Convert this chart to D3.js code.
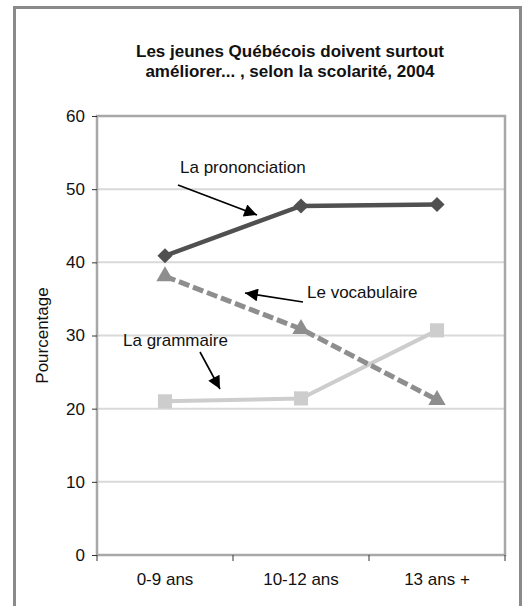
<!DOCTYPE html>
<html lang="fr">
<head>
<meta charset="utf-8">
<title>Les jeunes Québécois doivent surtout améliorer...</title>
<script src="https://cdn.jsdelivr.net/npm/d3@7"></script>
<style>
  body { margin: 0; background: #fff; }
  text { font-family: "Liberation Sans", Arial, sans-serif; fill: #111; }
</style>
</head>
<body>
<script>
// categories and series
var categories = ["0-9 ans", "10-12 ans", "13 ans +"];
var prononciation = [40.9, 47.7, 47.9];
var vocabulaire = [38.1, 30.9, 21.2];
var grammaire = [21.0, 21.4, 30.7];
var yTicks = [0, 10, 20, 30, 40, 50, 60];
var titleLines = ["Les jeunes Québécois doivent surtout", "améliorer... , selon la scolarité, 2004"];

var width = 525, height = 606;
var plot = { left: 97, right: 505, top: 116, bottom: 555 };

var svg = d3.select("body").append("svg")
  .attr("width", width)
  .attr("height", height);

// outer frame (bottom edge falls outside the picture)
svg.append("path")
  .attr("d", "M14.5,620 V7.5 H520.5 V620")
  .attr("fill", "none")
  .attr("stroke", "#8a8a8a")
  .attr("stroke-width", 3);

// title
svg.append("text")
  .attr("x", 290)
  .attr("text-anchor", "middle")
  .style("font-weight", "bold")
  .style("font-size", "17px")
  .selectAll("tspan")
  .data(titleLines)
  .enter()
  .append("tspan")
  .attr("x", 290)
  .attr("y", function(d, i) { return 57 + i * 20; })
  .text(function(d) { return d; });

var x = d3.scaleBand()
  .domain(categories)
  .range([plot.left, plot.right]);
var cx = function(i) { return x(categories[i]) + x.bandwidth() / 2; };

var y = d3.scaleLinear()
  .domain([0, 60])
  .range([plot.bottom, plot.top]);

// gridlines
svg.selectAll("line.grid")
  .data(yTicks.slice(1, -1))
  .enter()
  .append("line")
  .attr("class", "grid")
  .attr("x1", plot.left)
  .attr("x2", plot.right)
  .attr("y1", function(d) { return y(d); })
  .attr("y2", function(d) { return y(d); })
  .attr("stroke", "#d9d9d9")
  .attr("stroke-width", 2);

// plot border
svg.append("rect")
  .attr("x", plot.left)
  .attr("y", plot.top)
  .attr("width", plot.right - plot.left)
  .attr("height", plot.bottom - plot.top)
  .attr("fill", "none")
  .attr("stroke", "#a8a8a8")
  .attr("stroke-width", 2.5);

// y axis
var yAxis = svg.append("g")
  .attr("transform", "translate(" + plot.left + ",0)")
  .call(d3.axisLeft(y).tickValues(yTicks).tickSize(5).tickPadding(7));
yAxis.select(".domain").remove();
yAxis.selectAll("line").attr("stroke", "#333");
yAxis.selectAll("text")
  .style("font-size", "17px")
  .style("font-family", "'Liberation Sans', Arial, sans-serif")
  .attr("fill", "#111");

// x axis
var xAxis = svg.append("g")
  .attr("transform", "translate(0," + plot.bottom + ")")
  .call(d3.axisBottom(x).tickSize(0).tickPadding(18));
xAxis.select(".domain").remove();
xAxis.selectAll("text")
  .style("font-size", "17px")
  .style("font-family", "'Liberation Sans', Arial, sans-serif")
  .attr("fill", "#111");
svg.selectAll("line.xtick")
  .data(d3.range(categories.length + 1))
  .enter()
  .append("line")
  .attr("class", "xtick")
  .attr("x1", function(d) { return plot.left + d * x.bandwidth(); })
  .attr("x2", function(d) { return plot.left + d * x.bandwidth(); })
  .attr("y1", plot.bottom)
  .attr("y2", plot.bottom + 6)
  .attr("stroke", "#333");

// y title
svg.append("text")
  .attr("transform", "translate(48," + (plot.top + plot.bottom) / 2 + ") rotate(-90)")
  .attr("text-anchor", "middle")
  .style("font-size", "17px")
  .text("Pourcentage");

var line = d3.line()
  .x(function(d, i) { return cx(i); })
  .y(function(d) { return y(d); });

// La grammaire
svg.append("path")
  .attr("d", line(grammaire))
  .attr("fill", "none")
  .attr("stroke", "#cdcdcd")
  .attr("stroke-width", 4);
svg.selectAll("path.gram")
  .data(grammaire)
  .enter()
  .append("path")
  .attr("class", "gram")
  .attr("d", d3.symbol().type(d3.symbolSquare).size(200))
  .attr("transform", function(d, i) { return "translate(" + cx(i) + "," + y(d) + ")"; })
  .attr("fill", "#cdcdcd");

// Le vocabulaire
svg.append("path")
  .attr("d", line(vocabulaire))
  .attr("fill", "none")
  .attr("stroke", "#8e8e8e")
  .attr("stroke-width", 5)
  .attr("stroke-dasharray", "11,4");
svg.selectAll("path.voc")
  .data(vocabulaire)
  .enter()
  .append("path")
  .attr("class", "voc")
  .attr("d", d3.symbol().type(d3.symbolTriangle).size(130))
  .attr("transform", function(d, i) { return "translate(" + cx(i) + "," + y(d) + ")"; })
  .attr("fill", "#8e8e8e");

// La prononciation
svg.append("path")
  .attr("d", line(prononciation))
  .attr("fill", "none")
  .attr("stroke", "#505050")
  .attr("stroke-width", 4.5);
svg.selectAll("path.pron")
  .data(prononciation)
  .enter()
  .append("path")
  .attr("class", "pron")
  .attr("d", d3.symbol().type(d3.symbolSquare).size(115))
  .attr("transform", function(d, i) { return "translate(" + cx(i) + "," + y(d) + ") rotate(45)"; })
  .attr("fill", "#505050");

// annotations with arrows
svg.append("defs").append("marker")
  .attr("id", "arrow")
  .attr("viewBox", "0 0 10 10")
  .attr("refX", 10)
  .attr("refY", 5)
  .attr("markerWidth", 9)
  .attr("markerHeight", 8)
  .attr("markerUnits", "strokeWidth")
  .attr("orient", "auto")
  .append("path")
  .attr("d", "M0,0 L10,5 L0,10 Z")
  .attr("fill", "#000");

var notes = [
  { label: "La prononciation", tx: 180, ty: 173, x1: 178, y1: 185, x2: 257, y2: 215 },
  { label: "Le vocabulaire", tx: 307, ty: 298, x1: 303, y1: 302, x2: 245, y2: 293 },
  { label: "La grammaire", tx: 123, ty: 346, x1: 200, y1: 352, x2: 220, y2: 389 }
];
svg.selectAll("line.note")
  .data(notes)
  .enter()
  .append("line")
  .attr("class", "note")
  .attr("x1", function(d) { return d.x1; })
  .attr("y1", function(d) { return d.y1; })
  .attr("x2", function(d) { return d.x2; })
  .attr("y2", function(d) { return d.y2; })
  .attr("stroke", "#000")
  .attr("stroke-width", 1.6)
  .attr("marker-end", "url(#arrow)");
svg.selectAll("text.note")
  .data(notes)
  .enter()
  .append("text")
  .attr("class", "note")
  .attr("x", function(d) { return d.tx; })
  .attr("y", function(d) { return d.ty; })
  .style("font-size", "17px")
  .text(function(d) { return d.label; });
</script>
</body>
</html>
